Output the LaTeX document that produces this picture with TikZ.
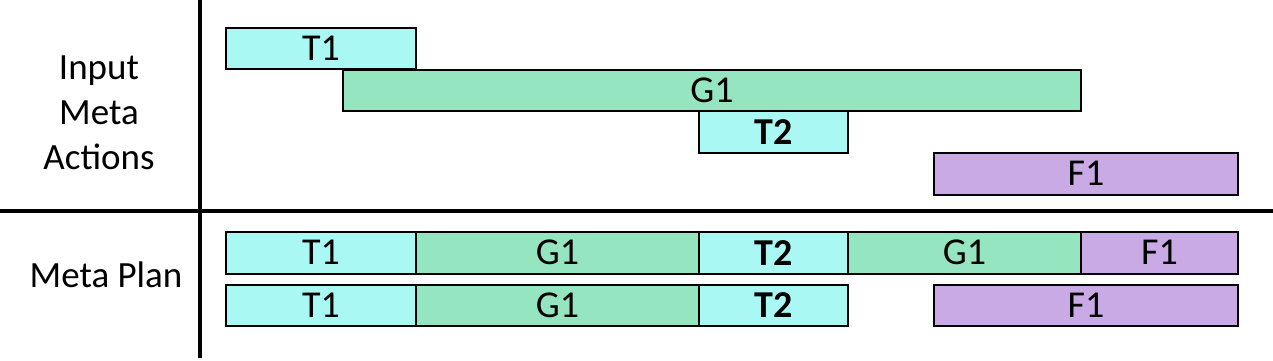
\documentclass[tikz,border=0pt]{standalone}
\usepackage{fontspec}
\setmainfont{Carlito}
\definecolor{tcol}{RGB}{170,248,244}
\definecolor{gcol}{RGB}{149,229,193}
\definecolor{fcol}{RGB}{201,170,229}
\begin{document}
\begin{tikzpicture}[x=1pt,y=-1pt,
  lbl/.style={font=\fontsize{37pt}{45pt}\selectfont, inner sep=0pt, align=center},
  bar/.style={draw=black, line width=2pt, inner sep=0pt, minimum height=41.5pt,
    font=\fontsize{38pt}{43pt}\selectfont, text=black},
  tbar/.style={bar, fill=tcol},
  gbar/.style={bar, fill=gcol},
  fbar/.style={bar, fill=fcol},
  sep/.style={line width=3.5pt, black}]
\useasboundingbox (0,0) rectangle (1273,361);
\fill[white] (0,0) rectangle (1273,361);
% separators
\draw[sep] (200,0) -- (200,358);
\draw[sep] (0,211) -- (1273,211);
% left labels
\node[lbl] (inlab) at (99,112.5) {Input\\Meta\\Actions};
\node[lbl, anchor=base] (mplab) at (106,287) {Meta Plan};
% input meta actions
\node[tbar, minimum width=190pt] (it1) at (321,48.5) {T1};
\node[gbar, minimum width=738pt] (ig1) at (712,90.25) {G1};
\node[tbar, minimum width=149pt] (it2) at (773.5,132) {\textbf{T2}};
\node[fbar, minimum width=304pt] (if1) at (1086,173.75) {F1};
% meta plan row 1
\node[tbar, minimum width=190pt] (a1) at (321,252.75) {T1};
\node[gbar, minimum width=283pt] (a2) at (557.5,252.75) {G1};
\node[tbar, minimum width=149pt] (a3) at (773.5,252.75) {\textbf{T2}};
\node[gbar, minimum width=233pt] (a4) at (964.5,252.75) {G1};
\node[fbar, minimum width=157pt] (a5) at (1159.5,252.75) {F1};
% meta plan row 2
\node[tbar, minimum width=190pt] (b1) at (321,305.25) {T1};
\node[gbar, minimum width=283pt] (b2) at (557.5,305.25) {G1};
\node[tbar, minimum width=149pt] (b3) at (773.5,305.25) {\textbf{T2}};
\node[fbar, minimum width=304pt] (b4) at (1086,305.25) {F1};
\end{tikzpicture}
\end{document}
